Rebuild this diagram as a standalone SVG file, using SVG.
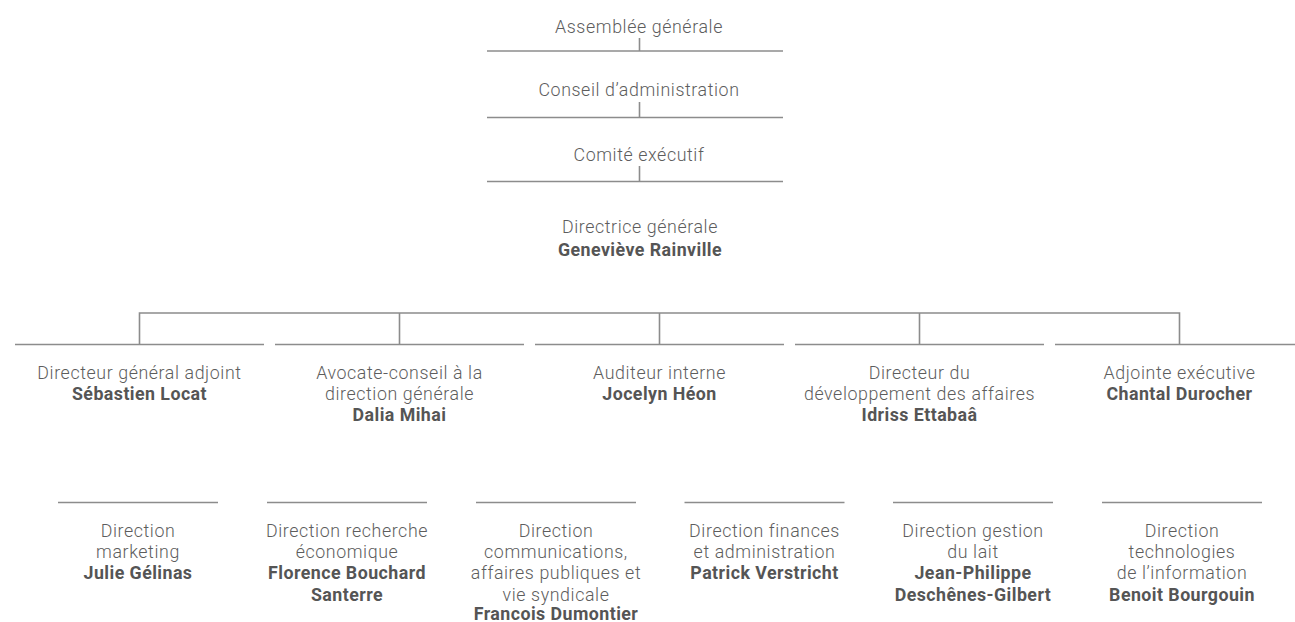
<svg xmlns="http://www.w3.org/2000/svg" width="1295" height="622" viewBox="0 0 1295 622">
<style>
text{font-family:Roboto,"Liberation Sans",sans-serif;font-size:17.8px;fill:#5d5d5d;text-anchor:middle;font-weight:300;letter-spacing:0.6px}
.b{font-weight:700;letter-spacing:0.45px;fill:#555}
.ln{stroke:#8c8c8c;stroke-width:1.6;fill:none}
</style>
<rect width="1295" height="622" fill="#fff"/>
<g id="connectors" class="ln">
<line x1="487" y1="51" x2="783" y2="51"/>
<line x1="639.5" y1="38" x2="639.5" y2="51"/>
<line x1="487" y1="117.5" x2="783" y2="117.5"/>
<line x1="639.5" y1="102" x2="639.5" y2="117.5"/>
<line x1="487" y1="181.5" x2="783" y2="181.5"/>
<line x1="639.5" y1="166" x2="639.5" y2="181.5"/>
<polyline points="139.5,344.5 139.5,313 1179.5,313 1179.5,344.5"/>
<line x1="399.5" y1="313" x2="399.5" y2="344.5"/>
<line x1="659.5" y1="313" x2="659.5" y2="344.5"/>
<line x1="919.5" y1="313" x2="919.5" y2="344.5"/>
<line x1="15" y1="344.5" x2="264" y2="344.5"/>
<line x1="275" y1="344.5" x2="524" y2="344.5"/>
<line x1="535" y1="344.5" x2="784" y2="344.5"/>
<line x1="795" y1="344.5" x2="1044" y2="344.5"/>
<line x1="1055" y1="344.5" x2="1295" y2="344.5"/>
<line x1="58" y1="502.5" x2="218" y2="502.5"/>
<line x1="267" y1="502.5" x2="427" y2="502.5"/>
<line x1="476" y1="502.5" x2="636" y2="502.5"/>
<line x1="684.5" y1="502.5" x2="844.5" y2="502.5"/>
<line x1="893" y1="502.5" x2="1053" y2="502.5"/>
<line x1="1102" y1="502.5" x2="1262" y2="502.5"/>
</g>
<g id="assemblee"><text x="639" y="33.3">Assemblée générale</text></g>
<g id="conseil"><text x="639" y="95.7">Conseil d’administration</text></g>
<g id="comite"><text x="639" y="160.7">Comité exécutif</text></g>
<g id="directrice"><text x="640" y="233.3">Directrice générale</text><text class="b" x="640" y="255.5">Geneviève Rainville</text></g>
<g id="dga"><text x="139.5" y="378.5">Directeur général adjoint</text><text class="b" x="139.5" y="399.5">Sébastien Locat</text></g>
<g id="avocate"><text x="399.5" y="378.5">Avocate-conseil à la</text><text x="399.5" y="399.5">direction générale</text><text class="b" x="399.5" y="420.5">Dalia Mihai</text></g>
<g id="auditeur"><text x="659.5" y="378.5">Auditeur interne</text><text class="b" x="659.5" y="399.5">Jocelyn Héon</text></g>
<g id="devaffaires"><text x="919.5" y="378.5">Directeur du</text><text x="919.5" y="399.5">développement des affaires</text><text class="b" x="919.5" y="420.5">Idriss Ettabaâ</text></g>
<g id="adjointe"><text x="1179.5" y="378.5">Adjointe exécutive</text><text class="b" x="1179.5" y="399.5">Chantal Durocher</text></g>
<g id="marketing"><text x="138" y="536.7">Direction</text><text x="138" y="558">marketing</text><text class="b" x="138" y="579.3">Julie Gélinas</text></g>
<g id="recherche"><text x="347" y="536.7">Direction recherche</text><text x="347" y="558">économique</text><text class="b" x="347" y="579.3">Florence Bouchard</text><text class="b" x="347" y="600.6">Santerre</text></g>
<g id="communications"><text x="556" y="536.7">Direction</text><text x="556" y="558">communications,</text><text x="556" y="579.3">affaires publiques et</text><text x="556" y="600.6">vie syndicale</text><text class="b" x="556" y="619.8">Francois Dumontier</text></g>
<g id="finances"><text x="764.5" y="536.7">Direction finances</text><text x="764.5" y="558">et administration</text><text class="b" x="764.5" y="579.3">Patrick Verstricht</text></g>
<g id="lait"><text x="973" y="536.7">Direction gestion</text><text x="973" y="558">du lait</text><text class="b" x="973" y="579.3">Jean-Philippe</text><text class="b" x="973" y="600.6">Deschênes-Gilbert</text></g>
<g id="ti"><text x="1182" y="536.7">Direction</text><text x="1182" y="558">technologies</text><text x="1182" y="579.3">de l’information</text><text class="b" x="1182" y="600.6">Benoit Bourgouin</text></g>
</svg>
